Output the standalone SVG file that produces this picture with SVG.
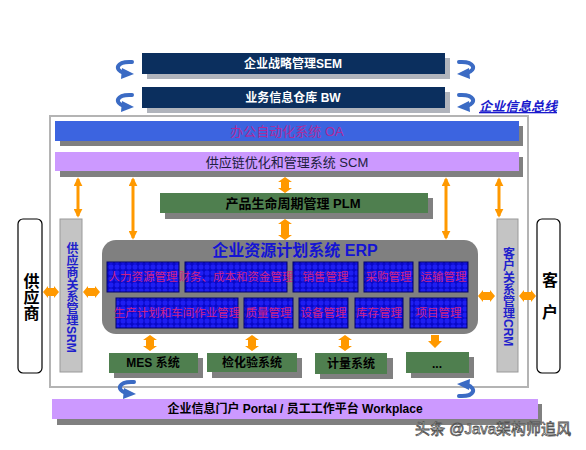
<svg xmlns="http://www.w3.org/2000/svg" width="586" height="450" viewBox="0 0 586 450">
<style>
text{font-family:"Liberation Sans","Noto Sans CJK SC",sans-serif;}
.w{fill:#fff;font-weight:bold;font-size:12px;text-anchor:middle;dominant-baseline:central;}
.b{fill:#000;font-weight:bold;font-size:12px;text-anchor:middle;dominant-baseline:central;}
.m{fill:#cc2288;font-size:11.5px;text-anchor:middle;dominant-baseline:central;}
.v{fill:#2020cc;font-weight:bold;font-size:12px;writing-mode:vertical-rl;}
.sh{fill:#808080;}
.navy{fill:#0b2f5e;}
.navysh{fill:#b0b4bc;}
.green{fill:#4f7f4f;}
.lav{fill:#cc99ff;}
.mod{fill:url(#tex);stroke:#00006a;stroke-width:1;}
.side{fill:#fff;stroke:#000;stroke-width:1.2;}
.bar{fill:#c4c4c4;stroke:#9a9a9a;stroke-width:1;}
.thin{stroke:#ff9900;stroke-width:3;marker-start:url(#oa);marker-end:url(#oa);}
.blk{fill:#ff9900;}
.cv{fill:none;stroke:#3b6bc4;stroke-width:4;stroke-linecap:round;}
.cvh{fill:#3b6bc4;}
</style>
<defs>
<marker id="oa" viewBox="0 0 10 10" refX="8" refY="5" markerWidth="3" markerHeight="3" orient="auto-start-reverse" markerUnits="strokeWidth"><path d="M0,0 L10,5 L0,10 z" fill="#ff9900"/></marker>
<pattern id="tex" width="6" height="6" patternUnits="userSpaceOnUse"><rect width="6" height="6" fill="#0808c8"/><rect x="0.6" y="0.6" width="4.8" height="4.8" rx="1.6" fill="#1e1ef2"/></pattern>
<g id="curv"><path class="cv" d="M19,2 C3,1 1,10 11,13"/><polygon class="cvh" points="9,8 21,14 8,19"/></g>
</defs>

<g id="sem"><rect class="navysh" x="147" y="58" width="303" height="21"/><rect class="navy" x="142" y="53" width="303" height="21"/><text class="w" x="293" y="64">企业战略管理SEM</text></g>
<g id="bw"><rect class="navysh" x="147" y="92" width="303" height="21"/><rect class="navy" x="142" y="87" width="303" height="21"/><text class="w" x="293" y="98">业务信息仓库 BW</text></g>
<g id="bus"><text x="479" y="111" style="fill:#1a1acc;font-weight:bold;font-style:italic;font-size:13px;text-decoration:underline">企业信息总线</text></g>

<g id="outer"><rect x="50" y="116" width="478" height="271" fill="#fff" stroke="#b4b4b4" stroke-width="2"/></g>

<g id="oa-sys"><rect class="sh" x="60" y="126" width="463" height="20"/><rect x="55" y="121" width="464" height="20" fill="#3c64e0"/><text class="m" x="287" y="131" style="font-size:13px;fill:#b02a9a">办公自动化系统 OA</text></g>
<g id="scm"><rect class="sh" x="60" y="157" width="463" height="20"/><rect class="lav" x="55" y="152" width="464" height="19"/><text x="287" y="162" style="fill:#202040;font-size:13px;text-anchor:middle;dominant-baseline:central">供应链优化和管理系统 SCM</text></g>
<g id="plm"><rect class="sh" x="165" y="198" width="268" height="21"/><rect class="green" x="160" y="193" width="268" height="20"/><text class="b" x="293" y="203" style="font-size:13px">产品生命周期管理 PLM</text></g>

<g id="supplier"><rect class="side" x="18" y="219" width="24" height="154" rx="5"/><text x="30" y="273" style="font-weight:bold;font-size:16px;writing-mode:vertical-rl;fill:#000">供应商</text></g>
<g id="customer"><rect class="side" x="537" y="219" width="23" height="154" rx="5"/><text x="548.5" y="272" style="font-weight:bold;font-size:16px;writing-mode:vertical-rl;letter-spacing:16px;fill:#000">客户</text></g>
<g id="srm"><rect class="bar" x="60" y="219" width="22" height="153"/><text class="v" x="71" y="242">供应商关系管理SRM</text></g>
<g id="crm"><rect class="bar" x="497" y="219" width="21" height="153"/><text class="v" x="507.5" y="247">客户关系管理CRM</text></g>

<g id="erp">
<rect x="102" y="240" width="376" height="94" rx="14" fill="#808080"/>
<text x="295" y="250" style="fill:#1414d4;font-weight:bold;font-size:16px;text-anchor:middle;dominant-baseline:central">企业资源计划系统 ERP</text>
<g id="hr"><rect class="mod" x="107" y="262" width="72" height="30"/><text class="m" x="143" y="277">人力资源管理</text></g>
<g id="fin"><rect class="mod" x="185" y="262" width="102" height="30"/><text class="m" x="236" y="277">财务、成本和资金管理</text></g>
<g id="sales"><rect class="mod" x="293" y="262" width="65" height="30"/><text class="m" x="325.5" y="277">销售管理</text></g>
<g id="purch"><rect class="mod" x="364" y="262" width="49" height="30"/><text class="m" x="388.5" y="277">采购管理</text></g>
<g id="trans"><rect class="mod" x="419" y="262" width="49" height="30"/><text class="m" x="443.5" y="277">运输管理</text></g>
<g id="prod"><rect class="mod" x="116" y="298" width="122" height="30"/><text class="m" x="177" y="313">生产计划和车间作业管理</text></g>
<g id="qual"><rect class="mod" x="244" y="298" width="49" height="30"/><text class="m" x="268.5" y="313">质量管理</text></g>
<g id="equip"><rect class="mod" x="299" y="298" width="49" height="30"/><text class="m" x="323.5" y="313">设备管理</text></g>
<g id="inv"><rect class="mod" x="355" y="298" width="48" height="30"/><text class="m" x="379" y="313">库存管理</text></g>
<g id="proj"><rect class="mod" x="410" y="298" width="57" height="30"/><text class="m" x="438.5" y="313">项目管理</text></g>
</g>

<g id="mes"><rect class="sh" x="114" y="358" width="89" height="20"/><rect class="green" x="109" y="353" width="89" height="20"/><text class="b" x="153" y="363">MES 系统</text></g>
<g id="lab"><rect class="sh" x="212" y="358" width="90" height="20"/><rect class="green" x="207" y="353" width="90" height="19"/><text class="b" x="252" y="362.5">检化验系统</text></g>
<g id="meter"><rect class="sh" x="320" y="358" width="73" height="21"/><rect class="green" x="315" y="353" width="72" height="21"/><text class="b" x="351" y="363.5">计量系统</text></g>
<g id="more"><rect class="sh" x="411" y="357" width="63" height="21"/><rect class="green" x="406" y="352" width="63" height="21"/><text class="b" x="437" y="364">...</text></g>

<g id="portal"><rect class="sh" x="57" y="404" width="485" height="21"/><rect class="lav" x="52" y="399" width="486" height="20"/><text class="b" x="295" y="409">企业信息门户 Portal / 员工工作平台 Workplace</text></g>

<g id="connectors">
<line class="thin" x1="78" y1="179" x2="78" y2="216"/>
<line class="thin" x1="133" y1="179" x2="133" y2="238"/>
<line class="thin" x1="446" y1="179" x2="446" y2="238"/>
<line class="thin" x1="499" y1="179" x2="499" y2="216"/>
<polygon class="blk" points="285,177 292,182 289,182 289,188 292,188 285,193 278,188 281,188 281,182 278,182"/>
<polygon class="blk" points="285,219 292,224 289,224 289,235 292,235 285,240 278,235 281,235 281,224 278,224"/>
<polygon class="blk" points="150,335 157,340 154,340 154,346 157,346 150,351 143,346 146,346 146,340 143,340"/>
<polygon class="blk" points="252,335 259,340 256,340 256,346 259,346 252,351 245,346 248,346 248,340 245,340"/>
<polygon class="blk" points="345,335 352,340 349,340 349,346 352,346 345,351 338,346 341,346 341,340 338,340"/>
<polygon class="blk" points="431,335 439,335 439,341 442,341 435,348 428,341 431,341"/>
<polygon class="blk" points="43,292 48,286 48,288 54,288 54,286 59,292 54,298 54,296 48,296 48,298"/>
<polygon class="blk" points="83,292 88,286 88,288 95,288 95,286 100,292 95,298 95,296 88,296 88,298"/>
<polygon class="blk" points="478,296 483,290 483,292 490,292 490,290 495,296 490,302 490,300 483,300 483,302"/>
<polygon class="blk" points="519,296 524,290 524,292 531,292 531,290 536,296 531,302 531,300 524,300 524,302"/>
<use href="#curv" x="113" y="60"/>
<use href="#curv" x="113" y="93"/>
<use href="#curv" transform="translate(478,60) scale(-1,1)"/>
<use href="#curv" transform="translate(478,93) scale(-1,1)"/>
<use href="#curv" x="115" y="380"/>
<use href="#curv" transform="translate(478,398) scale(-1,-1)"/>
</g>

<g id="watermark"><text x="415" y="434" style="fill:#fff;stroke:#555;stroke-width:0.8;font-size:15px">头条 @Java架构师追风</text></g>
</svg>
